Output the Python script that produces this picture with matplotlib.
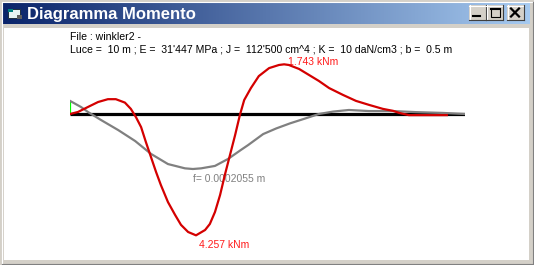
import numpy as np
import matplotlib
matplotlib.use('Agg')
import matplotlib.pyplot as plt
from matplotlib.colors import LinearSegmentedColormap
from matplotlib.patches import Rectangle

# beam data (x in m)
x_mom = [0.0, 0.20, 0.46, 0.71, 0.96, 1.16, 1.39, 1.54, 1.67, 1.80, 1.92, 2.05, 2.18,
         2.30, 2.48, 2.66, 2.81, 2.99, 3.19, 3.42, 3.54, 3.67, 3.80, 3.92, 4.05,
         4.18, 4.30, 4.41, 4.58, 4.78, 5.04, 5.29, 5.42, 5.54, 5.80, 6.05, 6.30,
         6.56, 6.91, 7.24, 7.57, 7.92, 8.18, 8.33, 8.58, 9.27, 9.54]
moment = [0.0, 0.07, 0.25, 0.42, 0.52, 0.52, 0.40, 0.18, -0.11, -0.46, -0.98, -1.51, -2.04,
          -2.49, -3.09, -3.54, -3.89, -4.14, -4.257, -4.07, -3.86, -3.44, -2.84, -2.14, -1.44,
          -0.74, -0.04, 0.49, 0.91, 1.33, 1.61, 1.72, 1.743, 1.72, 1.58, 1.37, 1.16,
          0.91, 0.67, 0.46, 0.32, 0.18, 0.11, 0.04, -0.04, -0.04, -0.04]

x_def = [0.0, 0.28, 0.46, 0.78, 1.22, 1.65, 2.05, 2.48, 2.91, 3.11, 3.32, 3.67, 4.00,
         4.33, 4.51, 4.89, 5.22, 5.57, 5.95, 6.30, 6.66, 7.06, 7.57, 8.18, 8.76, 9.44, 10.0]
deflection = [-0.049, -0.026, -0.007, 0.022, 0.060, 0.101, 0.149, 0.187, 0.203, 0.2055, 0.203,
              0.194, 0.168, 0.134, 0.116, 0.075, 0.054, 0.035, 0.017, 0.0, -0.009, -0.015,
              -0.011, -0.011, -0.007, -0.004, 0.0]  # mm, positive downwards

luce = 10
title = "Diagramma Momento"
header1 = "File : winkler2 -"
header2 = "Luce =  10 m ; E =  31'447 MPa ; J =  112'500 cm^4 ; K =  10 daN/cm3 ; b =  0.5 m"

W, H = 534, 265
fig = plt.figure(figsize=(W / 100, H / 100), dpi=100)
fig.patch.set_facecolor('#d4d0c8')

# window frame in pixel coords
bg = fig.add_axes([0, 0, 1, 1])
bg.set_xlim(0, W)
bg.set_ylim(H, 0)
bg.set_axis_off()

bg.plot([0.5, W - 0.5], [0.5, 0.5], color='#d4d0c8', lw=0.8)
bg.plot([1.5, W - 1.5], [1.5, 1.5], color='white', lw=0.8)
bg.plot([1.5, 1.5], [1.5, H - 1.5], color='white', lw=0.8)
bg.plot([0.5, W - 0.5], [H - 0.5, H - 0.5], color='#404040', lw=0.8)
bg.plot([W - 0.5, W - 0.5], [0.5, H - 0.5], color='#404040', lw=0.8)
bg.plot([1.5, W - 1.5], [H - 1.5, H - 1.5], color='#808080', lw=0.8)
bg.plot([W - 1.5, W - 1.5], [1.5, H - 1.5], color='#808080', lw=0.8)

cmap = LinearSegmentedColormap.from_list('tb', ['#0a246a', '#a6caf0'])
bg.imshow(np.linspace(0, 1, 256)[None, :], cmap=cmap, extent=(3, 530, 24, 3),
          aspect='auto', zorder=1)
bg.text(27, 19.5, title, color='white', fontsize=12, fontweight='bold',
        family='Liberation Sans', va='baseline', zorder=3)

# small icon
bg.add_patch(Rectangle((8, 9), 12, 9, facecolor='#e8f4f4', edgecolor='#203040', lw=0.7, zorder=3))
bg.add_patch(Rectangle((8, 9), 5, 3, facecolor='#008080', edgecolor='none', zorder=3))
bg.add_patch(Rectangle((17, 15), 5, 4, facecolor='#606060', edgecolor='none', zorder=3))

# caption buttons
for bx in [469, 486, 507]:
    bg.add_patch(Rectangle((bx, 5), 17, 15, facecolor='#d4d0c8', edgecolor='none', zorder=3))
    bg.plot([bx, bx + 17], [5.5, 5.5], color='white', lw=0.8, zorder=4)
    bg.plot([bx + 0.5, bx + 0.5], [5, 20], color='white', lw=0.8, zorder=4)
    bg.plot([bx, bx + 17], [19.5, 19.5], color='#404040', lw=0.8, zorder=4)
    bg.plot([bx + 16.5, bx + 16.5], [5, 20], color='#404040', lw=0.8, zorder=4)
bg.plot([473, 480], [16, 16], color='black', lw=1.5, zorder=5)
bg.add_patch(Rectangle((490.5, 8), 9, 8.5, facecolor='none', edgecolor='black', lw=0.8, zorder=5))
bg.plot([490.5, 499.5], [8.5, 8.5], color='black', lw=1.5, zorder=5)
bg.plot([511, 519], [8.5, 16.5], color='black', lw=1.6, zorder=5)
bg.plot([511, 519], [16.5, 8.5], color='black', lw=1.6, zorder=5)

# client area
bg.add_patch(Rectangle((4, 28), 525, 232, facecolor='white', edgecolor='none', zorder=1))
bg.text(70, 40, header1, fontsize=7.6, family='Liberation Sans', va='baseline', zorder=3)
bg.text(70, 53, header2, fontsize=7.6, family='Liberation Sans', va='baseline', zorder=3)

# chart: zero line at py=114, x from px 70 to 465
y0, top, bot = 114, 40, 250
m_scale = 28.5       # px per kNm
f_scale = 0.003736   # mm per px
ax = fig.add_axes([70 / W, 1 - bot / H, 395 / W, (bot - top) / H])
ax.set_xlim(0, luce)
ax.set_ylim(-(bot - y0) / m_scale, (y0 - top) / m_scale)
ax.set_axis_off()
ax2 = ax.twinx()
ax2.set_ylim((bot - y0) * f_scale, -(y0 - top) * f_scale)
ax2.set_axis_off()

ax2.plot([0, luce], [0, 0], color='black', lw=2.3, zorder=1, solid_capstyle='butt')
ax2.plot([0, 0], [0, deflection[0]], color='#00ff00', lw=1.6, zorder=2, solid_capstyle='butt')
ax2.plot(x_def, deflection, color='#808080', lw=1.6, zorder=3)
ax.plot(x_mom, moment, color='#d40000', lw=1.6, zorder=4)
ax.set_zorder(ax2.get_zorder() + 1)
ax.patch.set_visible(False)

i_max = int(np.argmax(moment))
i_min = int(np.argmin(moment))
i_f = int(np.argmax(deflection))
ax.annotate("%.3f kNm" % moment[i_max], xy=(x_mom[i_max], moment[i_max]), xytext=(4, 2),
            textcoords='offset pixels', color='#ff1a1a', fontsize=7.5,
            family='Liberation Sans', va='center', annotation_clip=False)
ax.annotate("%.3f kNm" % abs(moment[i_min]), xy=(x_mom[i_min], moment[i_min]), xytext=(3, -10),
            textcoords='offset pixels', color='#ff1a1a', fontsize=7.5,
            family='Liberation Sans', va='center', annotation_clip=False)
ax2.annotate("f= %.7f m" % (deflection[i_f] / 1000), xy=(x_def[i_f], deflection[i_f]),
             xytext=(0, -10), textcoords='offset pixels', color='#808080', fontsize=7.5,
             family='Liberation Sans', va='center', annotation_clip=False)

fig.savefig('out.png', dpi=100, facecolor=fig.get_facecolor())
